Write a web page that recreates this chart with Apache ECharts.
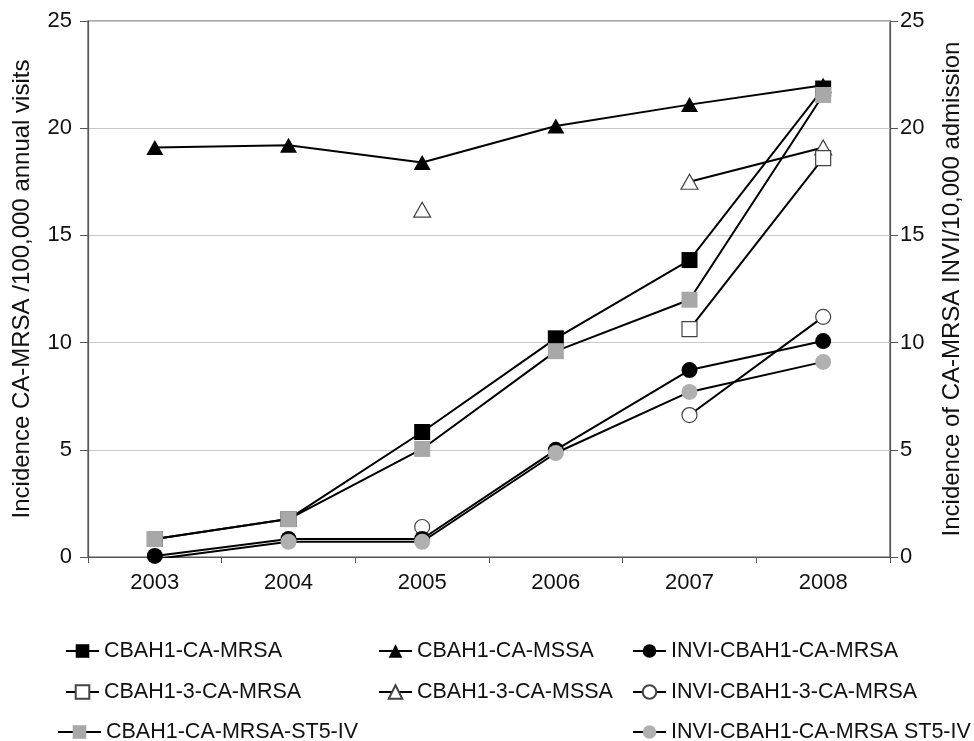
<!DOCTYPE html>
<html>
<head>
<meta charset="utf-8">
<script src="https://cdn.jsdelivr.net/npm/echarts@6/dist/echarts.min.js"></script>
<style>html,body{margin:0;padding:0;background:#fff}#c{width:974px;height:741px}</style>
</head>
<body>
<div id="c"></div>
<script>
const years = ['2003', '2004', '2005', '2006', '2007', '2008'];
const cbah1MRSA      = [0.84, 1.77, 5.83, 10.2, 13.85, 21.85];
const cbah1MSSA      = [19.1, 19.2, 18.4, 20.1, 21.1, 22.0];
const inviCbah1MRSA  = [0.05, 0.84, 0.84, 5.0, 8.72, 10.07];
const cbah13MRSA     = [null, null, null, null, 10.63, 18.6];
const cbah13MSSA     = [null, null, 16.2, null, 17.5, 19.1];
const inviCbah13MRSA = [null, null, 1.4, null, 6.62, 11.2];
const cbah1ST5       = [0.84, 1.77, 5.04, 9.6, 12.0, 21.55];
const inviCbah1ST5   = [-0.1, 0.71, 0.71, 4.85, 7.7, 9.1];
const yTicks = [0, 5, 10, 15, 20, 25];

const FONT = 'Liberation Sans, Arial, sans-serif';
const line = {color: '#000', width: 2};
function mk(name, data, symbol, size, fill, border, yIdx) {
  return {
    name, type: 'line', data, yAxisIndex: yIdx, symbol, symbolSize: size,
    showAllSymbol: true, connectNulls: false, animation: false,
    lineStyle: line,
    itemStyle: {color: fill, borderColor: border, borderWidth: border === fill ? 0 : 1.2},
    emphasis: {disabled: true}
  };
}
const series = [
  mk('CBAH1-3-CA-MSSA', cbah13MSSA, 'triangle', [17, 15], '#fff', '#444', 0),
  mk('CBAH1-3-CA-MRSA', cbah13MRSA, 'rect', 15, '#fff', '#444', 0),
  mk('INVI-CBAH1-3-CA-MRSA', inviCbah13MRSA, 'circle', 15, '#fff', '#444', 1),
  mk('CBAH1-CA-MSSA', cbah1MSSA, 'triangle', [17, 15], '#000', '#000', 0),
  mk('CBAH1-CA-MRSA', cbah1MRSA, 'rect', 16, '#000', '#000', 0),
  mk('INVI-CBAH1-CA-MRSA', inviCbah1MRSA, 'circle', 16, '#000', '#000', 1),
  mk('CBAH1-CA-MRSA-ST5-IV', cbah1ST5, 'rect', 16, '#a8a8a8', '#a8a8a8', 0),
  mk('INVI-CBAH1-CA-MRSA ST5-IV', inviCbah1ST5, 'circle', 16, '#b0b0b0', '#b0b0b0', 1)
];

const legendPos = [
  ['CBAH1-CA-MRSA', 65, 640, 33], ['CBAH1-CA-MSSA', 378, 640, 33], ['INVI-CBAH1-CA-MRSA', 632, 640, 33],
  ['CBAH1-3-CA-MRSA', 65, 681, 33], ['CBAH1-3-CA-MSSA', 378, 681, 33], ['INVI-CBAH1-3-CA-MRSA', 632, 681, 33],
  ['CBAH1-CA-MRSA-ST5-IV', 57, 721, 43], ['INVI-CBAH1-CA-MRSA ST5-IV', 632, 721, 33]
];
const legends = legendPos.map(([n, l, t, w]) => ({
  data: [n], left: l, top: t, itemWidth: w, itemHeight: 17, itemGap: 0,
  selectedMode: false, padding: 0,
  textStyle: {fontFamily: FONT, fontSize: 21.5, color: '#111', padding: [0, 0, 0, 0]}
}));

const yBase = {
  type: 'value', min: 0, max: 25, interval: 5,
  axisLine: {show: true, lineStyle: {color: '#555', width: 1.2}},
  axisTick: {show: true, length: 8, lineStyle: {color: '#555'}},
  nameLocation: 'middle',
  nameTextStyle: {fontFamily: FONT, fontSize: 24, color: '#111'}
};

const chart = echarts.init(document.getElementById('c'), null, {renderer: 'canvas'});
chart.setOption({
  animation: false,
  backgroundColor: '#fff',
  grid: {left: 88, right: 84, top: 21, bottom: 184, show: true, borderColor: '#555', borderWidth: 1.2,
    containLabel: false, outerBoundsMode: 'none'},
  legend: legends,
  xAxis: {
    type: 'category', data: years, boundaryGap: true,
    axisLine: {lineStyle: {color: '#555', width: 1.2}},
    axisTick: {show: true, length: 6, interval: 0, lineStyle: {color: '#555'}},
    axisLabel: {fontFamily: FONT, fontSize: 22, color: '#111', margin: 15}
  },
  yAxis: [
    Object.assign({}, yBase, {
      position: 'left', name: 'Incidence CA-MRSA /100,000 annual visits', nameGap: 54,
      splitLine: {show: true, lineStyle: {color: '#c8c8c8'}},
      axisLabel: {fontFamily: FONT, fontSize: 22, color: '#111', margin: 16,
        formatter: v => yTicks.includes(v) ? String(v) : ''}
    }),
    Object.assign({}, yBase, {
      position: 'right', name: 'Incidence of CA-MRSA INVI/10,000 admission', nameGap: 50,
      splitLine: {show: false},
      axisLabel: {fontFamily: FONT, fontSize: 22, color: '#111', margin: 10,
        formatter: v => yTicks.includes(v) ? String(v) : ''}
    })
  ],
  series
});
</script>
</body>
</html>
